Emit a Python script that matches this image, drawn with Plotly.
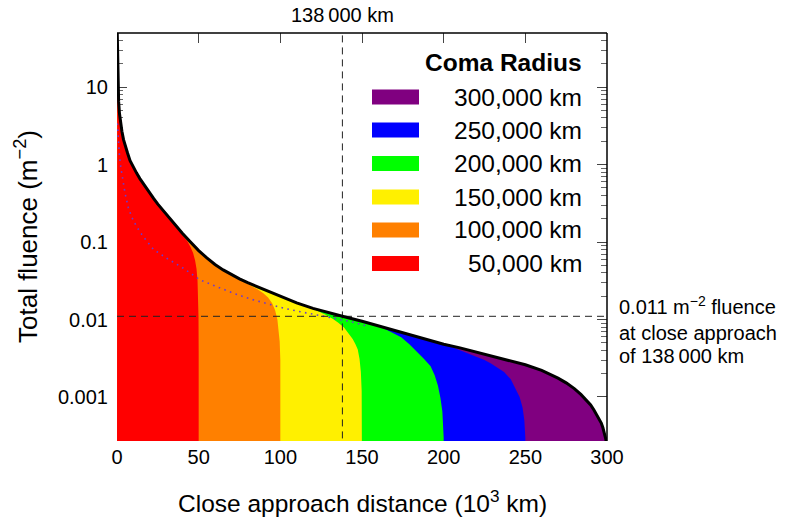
import math
import plotly.graph_objects as go

# ---------------------------------------------------------------- data
# Coma radii (10^3 km), outermost first, with legend labels and colours
radii = [300, 250, 200, 150, 100, 50]
radius_labels = ["300,000 km", "250,000 km", "200,000 km",
                 "150,000 km", "100,000 km", "50,000 km"]
colors = ["#800080", "#0000ff", "#00ff00", "#fff000", "#ff8000", "#ff0000"]

# Total fluence vs. close-approach distance for the 300,000 km coma (upper envelope)
env_x = [0.15, 0.3, 0.6, 1.0, 1.5, 2.0, 3.0, 4.0, 5.0, 6.5, 8.0, 10, 12, 14, 16,
         18, 20, 22.5, 25, 27.5, 30, 35, 40, 45, 50, 55, 60, 65, 70, 75, 80, 90,
         100, 110, 120, 130, 138, 150, 160, 170, 180, 190, 200, 210, 220, 230,
         240, 250, 260, 265, 270, 275, 280, 284, 287, 290, 292, 294, 295.5,
         296.5, 297.5, 298.5, 299.2, 299.7, 300]
env_y = [50, 28, 10, 6.5, 4.6, 3.6, 2.7, 2.1, 1.75, 1.4, 1.12, 0.92, 0.776, 0.66,
         0.569, 0.49, 0.427, 0.363, 0.309, 0.266, 0.229, 0.172, 0.130, 0.100,
         0.0776, 0.0624, 0.0513, 0.0437, 0.038, 0.0335, 0.0299, 0.0243, 0.0197,
         0.0164, 0.0139, 0.0121, 0.0110, 0.0095, 0.0083, 0.0072, 0.0063, 0.0055,
         0.0048, 0.0043, 0.0038, 0.0034, 0.0030, 0.0026, 0.0022, 0.00198,
         0.00175, 0.00152, 0.00128, 0.00108, 0.00092, 0.00079, 0.00068,
         0.00058, 0.00051, 0.00046, 0.00040, 0.00034, 0.00029, 0.00025, 0.0001]

# Fall-off of the fluence near the edge of each smaller coma
tail_x_250 = [205, 210, 215, 220, 225, 229, 233, 237, 241, 244, 246.5, 248.3,
              249.4, 250]
tail_y_250 = [0.0044, 0.0040, 0.0036, 0.0033, 0.0030, 0.0027, 0.0024, 0.0021,
              0.0017, 0.0013, 0.0010, 0.00073, 0.0005, 0.0003]
tail_x_200 = [160, 165, 170, 174, 179, 184, 188, 192, 194.5, 196.5, 198, 199.2,
              199.8, 200]
tail_y_200 = [0.0082, 0.0074, 0.0066, 0.0059, 0.0048, 0.0038, 0.0031, 0.0025,
              0.0019, 0.0014, 0.00098, 0.00065, 0.00042, 0.0003]
tail_x_150 = [120, 124, 128, 132, 135.5, 139, 142, 144.3, 146, 147.4, 148.5,
              149.3, 149.8, 150]
tail_y_150 = [0.0138, 0.0126, 0.0114, 0.0102, 0.0091, 0.0079, 0.0066, 0.0056,
              0.0048, 0.0041, 0.0031, 0.0021, 0.0012, 0.0005]
tail_x_100 = [78, 82, 86, 89.6, 92.5, 95, 96.8, 98.2, 99, 99.6, 100]
tail_y_100 = [0.031, 0.0275, 0.0245, 0.0218, 0.0192, 0.0162, 0.0132, 0.0100,
              0.0075, 0.0052, 0.0030]
tail_x_50 = [39, 41, 43, 45, 46.6, 47.8, 48.7, 49.3, 49.7, 49.9, 50]
tail_y_50 = [0.135, 0.120, 0.103, 0.086, 0.072, 0.058, 0.045, 0.032, 0.020,
             0.011, 0.004]

tails = {300: ([], []), 250: (tail_x_250, tail_y_250), 200: (tail_x_200, tail_y_200),
         150: (tail_x_150, tail_y_150), 100: (tail_x_100, tail_y_100),
         50: (tail_x_50, tail_y_50)}

# Dotted reference curve
dot_x = [0.18, 0.8, 1.4, 2.3, 3.5, 4.9, 6.9, 9.0, 12, 16, 22.3, 30.5, 40.7, 50.9,
         61.2, 71.4, 81.6, 91.8, 102, 112.3, 122.5, 132.7, 143, 153.2]
dot_y = [3.4, 2.07, 1.4, 0.93, 0.63, 0.43, 0.28, 0.21, 0.158, 0.118, 0.0805,
         0.0617, 0.0458, 0.0324, 0.0265, 0.0218, 0.0184, 0.0159, 0.0140, 0.0126,
         0.0114, 0.0104, 0.0094, 0.0082]

# Marked close approach
approach_x = 138          # 10^3 km
approach_y = 0.011        # m^-2

x_ticks = [0, 50, 100, 150, 200, 250, 300]
y_ticks = [0.001, 0.01, 0.1, 1, 10]
y_ticktext = ["0.001", "0.01", "0.1", "1", "10"]

# ---------------------------------------------------------------- layout constants
W, H = 797, 517
L, R_, T, B = 117, 190, 33, 76
y_lo, y_hi = 2.7e-4, 50
y_floor = 1e-4            # below the visible range, closes the filled areas
FONT = "Liberation Sans"

pw, ph = W - L - R_, H - T - B


def px(xp):
    return (xp - L) / pw


def py(yp):
    return (H - B - yp) / ph


fig = go.Figure()

# filled area under each coma's fluence curve, largest first
for rad, col in zip(radii, colors):
    tx, ty = tails[rad]
    cut = tx[0] if tx else rad + 1
    xs = [0] + [x for x in env_x if x < cut]
    ys = [y_floor] + [y for x, y in zip(env_x, env_y) if x < cut]
    xs += list(tx) + [rad, 0]
    ys += list(ty) + [y_floor, y_floor]
    fig.add_trace(go.Scatter(x=xs, y=ys, mode="lines", fill="toself",
                             fillcolor=col, line=dict(width=0, color=col),
                             hoverinfo="skip", showlegend=False))

# dotted reference curve
fig.add_trace(go.Scatter(x=dot_x, y=dot_y, mode="lines",
                         line=dict(color="#6a3ad0", width=1.6, dash="1.6px,4.4px"),
                         hoverinfo="skip", showlegend=False))

# dashed guide lines through the marked close approach
fig.add_trace(go.Scatter(x=[0, 300], y=[approach_y, approach_y], mode="lines",
                         line=dict(color="#222", width=1, dash="7px,5px"),
                         hoverinfo="skip", showlegend=False))
fig.add_trace(go.Scatter(x=[approach_x, approach_x], y=[y_floor, 100], mode="lines",
                         line=dict(color="#222", width=1, dash="7px,5px"),
                         hoverinfo="skip", showlegend=False))

# envelope curve
fig.add_trace(go.Scatter(x=env_x, y=env_y, mode="lines",
                         line=dict(color="black", width=3),
                         hoverinfo="skip", showlegend=False))

minor_vals = [m * 10 ** e for e in range(-3, 2) for m in range(2, 10)
              if y_lo < m * 10 ** e < y_hi]

fig.update_layout(
    width=W, height=H,
    margin=dict(l=L, r=R_, t=T, b=B),
    paper_bgcolor="white", plot_bgcolor="white",
    font=dict(family=FONT, color="black", size=20),
    showlegend=False,
    xaxis=dict(range=[0, 300], tickvals=x_ticks, ticks="inside", ticklen=10,
               tickwidth=1, tickcolor="#444", mirror="ticks", showline=False,
               showgrid=False, zeroline=False, layer="below traces",
               tickfont=dict(size=20, family=FONT), ticklabelstandoff=2),
    yaxis=dict(type="log", range=[math.log10(y_lo), math.log10(y_hi)],
               tickvals=y_ticks, ticktext=y_ticktext, ticks="inside", ticklen=10,
               tickwidth=1, tickcolor="#444", mirror="ticks", showline=False,
               showgrid=False, zeroline=False, layer="below traces",
               tickfont=dict(size=20, family=FONT), ticklabelstandoff=8,
               minor=dict(tickvals=minor_vals, ticks="inside", ticklen=6,
                          tickwidth=1, tickcolor="#666", showgrid=False)),
)

# frame (top and right edges)
fig.add_shape(type="line", xref="paper", yref="paper", x0=0, x1=1, y0=1, y1=1,
              line=dict(color="black", width=1.5), layer="above")
fig.add_shape(type="line", xref="paper", yref="paper", x0=1, x1=1, y0=0, y1=1,
              line=dict(color="black", width=1.5), layer="above")

# legend drawn by hand: title, swatches and right-aligned labels
fig.add_annotation(text="<b>Coma Radius</b>", xref="paper", yref="paper",
                   x=px(584), y=py(63), xanchor="right", yanchor="middle",
                   showarrow=False, font=dict(size=24.5, family=FONT))
row_y = [97, 130, 163.5, 197, 230, 263.5]
for lab, col, ry in zip(radius_labels, colors, row_y):
    fig.add_shape(type="rect", xref="paper", yref="paper",
                  x0=px(372), x1=px(419), y0=py(ry + 7.5), y1=py(ry - 7.5),
                  fillcolor=col, line=dict(width=0), layer="above")
    fig.add_annotation(text=lab, xref="paper", yref="paper", x=px(584), y=py(ry),
                       xanchor="right", yanchor="middle", showarrow=False,
                       font=dict(size=24.5, family=FONT))

# labels for the marked close approach
fig.add_annotation(text="138\u2009000 km", xref="x", yref="paper", x=approach_x,
                   y=py(15.5), xanchor="center", yanchor="middle", showarrow=False,
                   font=dict(size=20, family=FONT))
side_lines = ["0.011 m<sup>\u22122</sup> fluence", "at close approach",
              "of 138\u2009000 km"]
for txt, ly in zip(side_lines, [305, 333, 356]):
    fig.add_annotation(text=txt, xref="paper", yref="paper", x=px(617), y=py(ly),
                       xanchor="left", yanchor="middle", showarrow=False,
                       font=dict(size=20, family=FONT))

# axis titles
fig.add_annotation(text="Close approach distance (10<sup>3</sup> km)",
                   xref="paper", yref="paper", x=px(362), y=py(502),
                   xanchor="center", yanchor="middle", showarrow=False,
                   font=dict(size=24.5, family=FONT))
fig.add_annotation(text="Total fluence (m<sup>\u22122</sup>)", textangle=-90,
                   xref="paper", yref="paper", x=px(26), y=py(237),
                   xanchor="center", yanchor="middle", showarrow=False,
                   font=dict(size=26, family=FONT))

fig.write_html("out.html")
